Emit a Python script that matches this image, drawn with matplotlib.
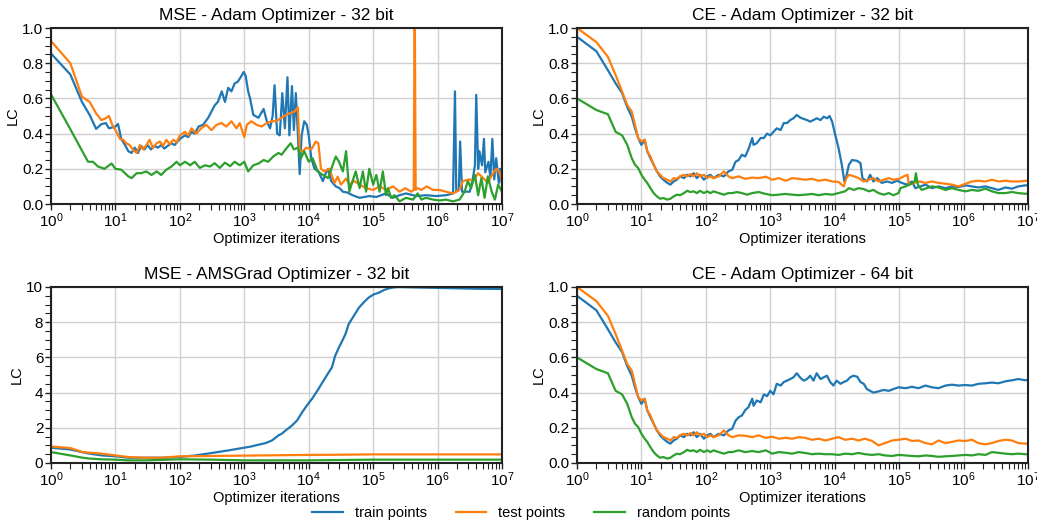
import numpy as np
import matplotlib
matplotlib.use("Agg")
import matplotlib.pyplot as plt
from matplotlib.ticker import MultipleLocator, LogLocator, NullFormatter

plt.rcParams['font.family'] = ['Liberation Sans', 'DejaVu Sans']
plt.rcParams['mathtext.fontset'] = 'custom'
plt.rcParams['mathtext.rm'] = 'Liberation Sans'
plt.rcParams['mathtext.it'] = 'Liberation Sans:italic'
plt.rcParams['mathtext.bf'] = 'Liberation Sans:bold'

# ---------------- data (x given as log10 of optimizer iterations) ----------------
# Panel 1: MSE - Adam - 32 bit
mse_adam_train_exp = [0, 0.3, 0.48, 0.6, 0.7, 0.78, 0.85, 0.9, 0.95, 1.0, 1.04, 1.09, 1.15, 1.2, 1.25, 1.3, 1.35, 1.4, 1.45, 1.5, 1.55, 1.61, 1.66, 1.71, 1.76, 1.81, 1.87, 1.92, 2.0, 2.08, 2.13, 2.18, 2.23, 2.29, 2.36, 2.44, 2.49, 2.54, 2.59, 2.65, 2.7, 2.75, 2.8, 2.85, 2.9, 2.96, 2.99, 3.02, 3.06, 3.09, 3.14, 3.22, 3.3, 3.35, 3.4, 3.44, 3.47, 3.51, 3.55, 3.59, 3.63, 3.67, 3.7, 3.74, 3.77, 3.8, 3.83, 3.86, 3.89, 3.93, 3.97, 4.0, 4.04, 4.09, 4.15, 4.22, 4.26, 4.3, 4.35, 4.42, 4.48, 4.53, 4.6, 4.68, 4.79, 4.94, 5.05, 5.2, 5.3, 5.41, 5.51, 5.67, 5.82, 5.98, 6.13, 6.24, 6.27, 6.29, 6.33, 6.35, 6.38, 6.5, 6.55, 6.58, 6.6, 6.63, 6.65, 6.69, 6.72, 6.74, 6.79, 6.82, 6.85, 6.88, 6.91, 6.95, 6.97, 7.0]
mse_adam_train_lc = [0.855, 0.736, 0.58, 0.506, 0.427, 0.453, 0.46, 0.43, 0.435, 0.44, 0.455, 0.37, 0.335, 0.30, 0.29, 0.32, 0.29, 0.33, 0.31, 0.335, 0.31, 0.33, 0.32, 0.335, 0.315, 0.33, 0.345, 0.335, 0.37, 0.39, 0.38, 0.41, 0.40, 0.44, 0.45, 0.49, 0.525, 0.56, 0.58, 0.64, 0.58, 0.66, 0.64, 0.685, 0.695, 0.73, 0.75, 0.73, 0.64, 0.60, 0.506, 0.49, 0.54, 0.47, 0.43, 0.50, 0.675, 0.40, 0.39, 0.63, 0.43, 0.72, 0.39, 0.67, 0.42, 0.63, 0.41, 0.17, 0.39, 0.47, 0.45, 0.39, 0.26, 0.20, 0.185, 0.13, 0.17, 0.20, 0.13, 0.10, 0.09, 0.07, 0.065, 0.05, 0.035, 0.045, 0.04, 0.06, 0.035, 0.05, 0.06, 0.045, 0.05, 0.045, 0.05, 0.06, 0.64, 0.07, 0.08, 0.355, 0.07, 0.07, 0.15, 0.22, 0.62, 0.20, 0.30, 0.22, 0.37, 0.18, 0.24, 0.15, 0.37, 0.14, 0.26, 0.12, 0.20, 0.11]

mse_adam_test_exp = [0, 0.3, 0.48, 0.6, 0.7, 0.78, 0.85, 0.9, 0.95, 1.0, 1.07, 1.12, 1.17, 1.22, 1.27, 1.33, 1.38, 1.43, 1.48, 1.53, 1.58, 1.64, 1.69, 1.74, 1.79, 1.84, 1.9, 1.95, 2.0, 2.08, 2.13, 2.18, 2.26, 2.33, 2.41, 2.49, 2.57, 2.65, 2.72, 2.8, 2.88, 2.93, 3.0, 3.04, 3.11, 3.19, 3.27, 3.35, 3.42, 3.47, 3.54, 3.62, 3.7, 3.78, 3.83, 3.86, 3.91, 3.96, 4.04, 4.11, 4.15, 4.19, 4.24, 4.32, 4.4, 4.45, 4.5, 4.58, 4.63, 4.71, 4.79, 4.89, 5.0, 5.1, 5.2, 5.31, 5.41, 5.5, 5.59, 5.63, 5.645, 5.66, 5.69, 5.75, 5.83, 5.93, 6.03, 6.13, 6.24, 6.34, 6.39, 6.5, 6.55, 6.63, 6.7, 6.78, 6.83, 6.91, 6.96, 7.0]
mse_adam_test_lc = [0.926, 0.80, 0.61, 0.58, 0.515, 0.477, 0.487, 0.50, 0.45, 0.42, 0.37, 0.365, 0.345, 0.335, 0.31, 0.29, 0.335, 0.31, 0.335, 0.365, 0.32, 0.345, 0.355, 0.33, 0.365, 0.34, 0.365, 0.35, 0.39, 0.41, 0.39, 0.43, 0.40, 0.43, 0.45, 0.42, 0.45, 0.46, 0.44, 0.47, 0.43, 0.46, 0.38, 0.45, 0.47, 0.45, 0.44, 0.46, 0.47, 0.47, 0.48, 0.50, 0.515, 0.525, 0.55, 0.30, 0.30, 0.32, 0.31, 0.355, 0.345, 0.20, 0.185, 0.20, 0.12, 0.155, 0.11, 0.145, 0.11, 0.13, 0.11, 0.09, 0.08, 0.10, 0.08, 0.10, 0.07, 0.09, 0.07, 0.08, 1.2, 0.08, 0.09, 0.08, 0.10, 0.08, 0.08, 0.07, 0.06, 0.08, 0.13, 0.14, 0.13, 0.175, 0.15, 0.12, 0.155, 0.20, 0.185, 0.13]

mse_adam_random_exp = [0, 0.3, 0.575, 0.65, 0.73, 0.83, 0.94, 1.0, 1.09, 1.2, 1.25, 1.33, 1.4, 1.48, 1.56, 1.64, 1.71, 1.79, 1.87, 1.95, 2.0, 2.08, 2.16, 2.23, 2.31, 2.39, 2.47, 2.54, 2.62, 2.7, 2.78, 2.85, 2.93, 3.0, 3.06, 3.14, 3.22, 3.3, 3.37, 3.45, 3.53, 3.58, 3.64, 3.72, 3.77, 3.83, 3.88, 3.93, 4.0, 4.06, 4.14, 4.22, 4.3, 4.37, 4.42, 4.47, 4.53, 4.58, 4.63, 4.68, 4.73, 4.79, 4.84, 4.89, 4.94, 5.0, 5.05, 5.1, 5.15, 5.2, 5.23, 5.28, 5.33, 5.41, 5.51, 5.62, 5.69, 5.75, 5.82, 5.93, 6.03, 6.13, 6.24, 6.34, 6.42, 6.47, 6.52, 6.58, 6.63, 6.68, 6.73, 6.78, 6.84, 6.89, 6.94, 7.0]
mse_adam_random_lc = [0.623, 0.425, 0.24, 0.24, 0.213, 0.20, 0.23, 0.20, 0.195, 0.157, 0.147, 0.175, 0.175, 0.185, 0.165, 0.185, 0.165, 0.195, 0.213, 0.24, 0.22, 0.24, 0.22, 0.24, 0.205, 0.22, 0.213, 0.232, 0.205, 0.235, 0.215, 0.24, 0.22, 0.24, 0.185, 0.22, 0.23, 0.25, 0.24, 0.27, 0.29, 0.28, 0.31, 0.345, 0.31, 0.32, 0.26, 0.30, 0.24, 0.26, 0.185, 0.165, 0.147, 0.22, 0.27, 0.24, 0.185, 0.30, 0.07, 0.13, 0.185, 0.09, 0.185, 0.07, 0.20, 0.11, 0.165, 0.07, 0.185, 0.05, 0.09, 0.035, 0.05, 0.015, 0.035, 0.025, 0.06, 0.025, 0.035, 0.025, 0.02, 0.025, 0.015, 0.025, 0.07, 0.13, 0.09, 0.165, 0.05, 0.147, 0.035, 0.157, 0.07, 0.025, 0.11, 0.07]

# Panels 2 and 4 share the same first ~250 iterations (CE - Adam, 32 and 64 bit)
ce_early_exp = [0, 0.3, 0.48, 0.6, 0.7, 0.78, 0.85, 0.9, 0.95, 1.0, 1.05, 1.09, 1.14, 1.19, 1.24, 1.29, 1.34, 1.4, 1.45, 1.5, 1.55, 1.6, 1.66, 1.71, 1.76, 1.81, 1.86, 1.91, 1.97, 2.02, 2.07, 2.12, 2.2, 2.28, 2.35, 2.41]
ce_early_train_lc = [0.95, 0.868, 0.76, 0.685, 0.63, 0.55, 0.496, 0.43, 0.375, 0.336, 0.365, 0.30, 0.26, 0.223, 0.185, 0.157, 0.138, 0.12, 0.11, 0.128, 0.138, 0.157, 0.147, 0.166, 0.157, 0.175, 0.147, 0.166, 0.138, 0.157, 0.166, 0.147, 0.166, 0.157, 0.185, 0.195]
ce_early_test_lc = [1.0, 0.92, 0.836, 0.732, 0.638, 0.562, 0.525, 0.45, 0.374, 0.355, 0.365, 0.30, 0.27, 0.223, 0.185, 0.166, 0.147, 0.138, 0.128, 0.147, 0.143, 0.157, 0.166, 0.157, 0.17, 0.157, 0.175, 0.157, 0.166, 0.147, 0.157, 0.147, 0.157, 0.185, 0.157, 0.147]
ce_early_random_lc = [0.6, 0.534, 0.51, 0.41, 0.39, 0.336, 0.26, 0.223, 0.204, 0.166, 0.138, 0.12, 0.09, 0.062, 0.043, 0.03, 0.034, 0.025, 0.03, 0.043, 0.053, 0.05, 0.062, 0.075, 0.068, 0.072, 0.062, 0.075, 0.062, 0.072, 0.062, 0.072, 0.062, 0.053, 0.062, 0.062]

# Panel 2: CE - Adam - 32 bit (after the shared start)
ce32_train_exp = [2.46, 2.51, 2.56, 2.61, 2.66, 2.72, 2.74, 2.79, 2.85, 2.9, 2.95, 3.0, 3.05, 3.1, 3.16, 3.21, 3.26, 3.31, 3.36, 3.41, 3.47, 3.52, 3.57, 3.62, 3.67, 3.72, 3.78, 3.83, 3.88, 3.92, 3.96, 4.01, 4.06, 4.11, 4.15, 4.18, 4.22, 4.27, 4.35, 4.4, 4.43, 4.5, 4.55, 4.6, 4.66, 4.73, 4.81, 4.89, 4.97, 5.04, 5.12, 5.2, 5.25, 5.33, 5.41, 5.51, 5.61, 5.72, 5.82, 5.92, 6.03, 6.13, 6.23, 6.34, 6.44, 6.54, 6.65, 6.75, 6.85, 6.96, 7.0]
ce32_train_lc = [0.24, 0.25, 0.28, 0.27, 0.31, 0.375, 0.336, 0.345, 0.375, 0.375, 0.40, 0.39, 0.41, 0.43, 0.42, 0.46, 0.46, 0.477, 0.487, 0.506, 0.49, 0.483, 0.477, 0.468, 0.477, 0.487, 0.477, 0.496, 0.487, 0.50, 0.468, 0.39, 0.317, 0.223, 0.128, 0.157, 0.223, 0.25, 0.245, 0.232, 0.147, 0.128, 0.166, 0.128, 0.147, 0.12, 0.128, 0.12, 0.132, 0.12, 0.11, 0.128, 0.09, 0.10, 0.11, 0.09, 0.10, 0.09, 0.10, 0.096, 0.106, 0.10, 0.094, 0.10, 0.09, 0.08, 0.094, 0.087, 0.10, 0.106, 0.105]
ce32_test_exp = [2.51, 2.61, 2.72, 2.82, 2.93, 3.03, 3.13, 3.24, 3.34, 3.44, 3.54, 3.65, 3.75, 3.86, 3.96, 4.06, 4.14, 4.18, 4.22, 4.3, 4.37, 4.45, 4.53, 4.6, 4.68, 4.76, 4.84, 4.91, 5.0, 5.07, 5.13, 5.15, 5.23, 5.31, 5.41, 5.51, 5.61, 5.72, 5.82, 5.92, 6.03, 6.13, 6.23, 6.34, 6.44, 6.54, 6.65, 6.75, 6.85, 6.96, 7.0]
ce32_test_lc = [0.157, 0.143, 0.15, 0.147, 0.155, 0.138, 0.147, 0.132, 0.147, 0.143, 0.138, 0.143, 0.132, 0.138, 0.128, 0.125, 0.10, 0.147, 0.166, 0.157, 0.147, 0.128, 0.138, 0.147, 0.128, 0.138, 0.147, 0.138, 0.143, 0.157, 0.166, 0.11, 0.12, 0.128, 0.12, 0.128, 0.12, 0.115, 0.11, 0.10, 0.115, 0.128, 0.132, 0.128, 0.138, 0.128, 0.132, 0.128, 0.128, 0.132, 0.13]
ce32_random_exp = [2.48, 2.56, 2.64, 2.72, 2.82, 2.93, 3.03, 3.13, 3.23, 3.34, 3.44, 3.54, 3.65, 3.75, 3.86, 3.96, 4.06, 4.16, 4.22, 4.3, 4.37, 4.45, 4.53, 4.6, 4.68, 4.76, 4.84, 4.91, 4.99, 5.02, 5.1, 5.18, 5.24, 5.26, 5.29, 5.35, 5.43, 5.51, 5.61, 5.72, 5.82, 5.92, 6.03, 6.13, 6.23, 6.34, 6.44, 6.54, 6.65, 6.75, 6.85, 6.96, 7.0]
ce32_random_lc = [0.068, 0.062, 0.053, 0.062, 0.068, 0.057, 0.05, 0.053, 0.057, 0.053, 0.05, 0.053, 0.057, 0.05, 0.057, 0.053, 0.062, 0.072, 0.09, 0.08, 0.09, 0.085, 0.072, 0.08, 0.062, 0.053, 0.062, 0.05, 0.062, 0.09, 0.10, 0.113, 0.128, 0.175, 0.11, 0.08, 0.09, 0.10, 0.094, 0.08, 0.09, 0.08, 0.072, 0.08, 0.075, 0.087, 0.072, 0.062, 0.062, 0.068, 0.062, 0.058, 0.06]

# Panel 4: CE - Adam - 64 bit (after the shared start)
ce64_train_exp = [2.46, 2.51, 2.56, 2.61, 2.66, 2.72, 2.74, 2.79, 2.85, 2.9, 2.95, 3.0, 3.05, 3.1, 3.16, 3.21, 3.26, 3.31, 3.36, 3.41, 3.47, 3.52, 3.57, 3.62, 3.67, 3.72, 3.78, 3.83, 3.88, 3.93, 3.98, 4.03, 4.09, 4.14, 4.19, 4.24, 4.29, 4.35, 4.4, 4.45, 4.5, 4.55, 4.6, 4.68, 4.76, 4.84, 4.91, 4.99, 5.1, 5.2, 5.3, 5.41, 5.51, 5.61, 5.72, 5.82, 5.92, 6.03, 6.13, 6.23, 6.34, 6.44, 6.54, 6.65, 6.75, 6.85, 6.96, 7.0]
ce64_train_lc = [0.24, 0.26, 0.27, 0.30, 0.317, 0.365, 0.325, 0.355, 0.345, 0.39, 0.38, 0.41, 0.39, 0.45, 0.44, 0.46, 0.468, 0.477, 0.487, 0.51, 0.483, 0.468, 0.477, 0.496, 0.468, 0.51, 0.477, 0.487, 0.496, 0.46, 0.44, 0.468, 0.45, 0.46, 0.468, 0.487, 0.496, 0.49, 0.46, 0.45, 0.42, 0.41, 0.40, 0.407, 0.415, 0.41, 0.42, 0.43, 0.425, 0.433, 0.425, 0.44, 0.43, 0.425, 0.44, 0.445, 0.44, 0.443, 0.44, 0.45, 0.453, 0.457, 0.453, 0.464, 0.47, 0.477, 0.47, 0.472]
ce64_test_exp = [2.51, 2.61, 2.72, 2.82, 2.93, 3.03, 3.13, 3.24, 3.34, 3.44, 3.54, 3.65, 3.75, 3.86, 3.96, 4.06, 4.16, 4.27, 4.37, 4.47, 4.58, 4.68, 4.78, 4.89, 4.99, 5.1, 5.2, 5.3, 5.41, 5.51, 5.61, 5.72, 5.82, 5.92, 6.03, 6.13, 6.23, 6.34, 6.44, 6.54, 6.65, 6.75, 6.85, 6.96, 7.0]
ce64_test_lc = [0.157, 0.155, 0.147, 0.157, 0.143, 0.15, 0.138, 0.143, 0.138, 0.147, 0.143, 0.132, 0.138, 0.128, 0.138, 0.147, 0.132, 0.138, 0.128, 0.138, 0.125, 0.10, 0.113, 0.128, 0.132, 0.138, 0.125, 0.128, 0.113, 0.106, 0.128, 0.113, 0.12, 0.128, 0.125, 0.132, 0.113, 0.106, 0.113, 0.125, 0.132, 0.128, 0.113, 0.11, 0.112]
ce64_random_exp = [2.51, 2.61, 2.72, 2.82, 2.93, 3.03, 3.13, 3.24, 3.34, 3.44, 3.54, 3.65, 3.75, 3.86, 3.96, 4.06, 4.16, 4.27, 4.37, 4.47, 4.58, 4.68, 4.78, 4.89, 4.99, 5.1, 5.2, 5.3, 5.41, 5.51, 5.61, 5.72, 5.82, 5.92, 6.03, 6.13, 6.23, 6.34, 6.44, 6.54, 6.65, 6.75, 6.85, 6.96, 7.0]
ce64_random_lc = [0.072, 0.062, 0.068, 0.062, 0.072, 0.053, 0.062, 0.058, 0.053, 0.062, 0.057, 0.05, 0.053, 0.05, 0.05, 0.046, 0.053, 0.05, 0.057, 0.05, 0.046, 0.05, 0.043, 0.04, 0.046, 0.043, 0.04, 0.038, 0.043, 0.04, 0.035, 0.038, 0.04, 0.043, 0.046, 0.043, 0.05, 0.046, 0.062, 0.058, 0.053, 0.05, 0.053, 0.05, 0.05]

# Panel 3: MSE - AMSGrad - 32 bit
ams_train_exp = [0, 0.3, 0.48, 0.6, 0.79, 1.0, 1.2, 1.46, 1.72, 2.0, 2.24, 2.5, 2.76, 3.0, 3.11, 3.22, 3.33, 3.43, 3.53, 3.58, 3.66, 3.74, 3.82, 3.9, 3.97, 4.05, 4.1, 4.15, 4.23, 4.31, 4.36, 4.41, 4.47, 4.52, 4.57, 4.62, 4.7, 4.78, 4.85, 4.93, 5.01, 5.09, 5.17, 5.24, 5.32, 5.4, 5.6, 5.87, 6.12, 6.38, 6.64, 7.0]
ams_train_lc = [0.87, 0.77, 0.62, 0.53, 0.43, 0.38, 0.30, 0.30, 0.30, 0.34, 0.43, 0.57, 0.72, 0.87, 0.94, 1.04, 1.13, 1.28, 1.57, 1.66, 1.9, 2.13, 2.42, 2.89, 3.26, 3.64, 3.92, 4.2, 4.68, 5.15, 5.43, 6.09, 6.57, 6.94, 7.32, 7.89, 8.36, 8.83, 9.11, 9.4, 9.58, 9.68, 9.83, 9.92, 9.98, 10.0, 9.98, 9.96, 9.94, 9.92, 9.9, 9.89]
ams_test_exp = [0, 0.3, 0.49, 0.79, 1.0, 1.2, 1.46, 1.72, 2.0, 2.5, 3.0, 3.5, 4.0, 4.5, 5.0, 6.0, 7.0]
ams_test_lc = [0.94, 0.85, 0.62, 0.53, 0.43, 0.34, 0.30, 0.30, 0.38, 0.40, 0.42, 0.44, 0.46, 0.47, 0.49, 0.49, 0.49]
ams_random_exp = [0, 0.3, 0.49, 0.6, 0.79, 1.0, 1.2, 1.46, 2.0, 2.5, 3.0, 4.0, 4.5, 5.0, 6.0, 7.0]
ams_random_lc = [0.62, 0.43, 0.30, 0.25, 0.21, 0.19, 0.15, 0.15, 0.21, 0.19, 0.15, 0.15, 0.17, 0.19, 0.19, 0.19]

series_labels = ["train points", "test points", "random points"]
titles = ["MSE - Adam Optimizer - 32 bit", "CE - Adam Optimizer - 32 bit",
          "MSE - AMSGrad Optimizer - 32 bit", "CE - Adam Optimizer - 64 bit"]
colors = ["#1f77b4", "#ff7f0e", "#2ca02c"]

panels = [
    ([(mse_adam_train_exp, mse_adam_train_lc), (mse_adam_test_exp, mse_adam_test_lc),
      (mse_adam_random_exp, mse_adam_random_lc)], (0, 1.0), 0.2, 0.05),
    ([(ce_early_exp + ce32_train_exp, ce_early_train_lc + ce32_train_lc),
      (ce_early_exp + ce32_test_exp, ce_early_test_lc + ce32_test_lc),
      (ce_early_exp + ce32_random_exp, ce_early_random_lc + ce32_random_lc)], (0, 1.0), 0.2, 0.05),
    ([(ams_train_exp, ams_train_lc), (ams_test_exp, ams_test_lc),
      (ams_random_exp, ams_random_lc)], (0, 10), 2, 0.5),
    ([(ce_early_exp + ce64_train_exp, ce_early_train_lc + ce64_train_lc),
      (ce_early_exp + ce64_test_exp, ce_early_test_lc + ce64_test_lc),
      (ce_early_exp + ce64_random_exp, ce_early_random_lc + ce64_random_lc)], (0, 1.0), 0.2, 0.05),
]

W, H = 1037, 522
fig = plt.figure(figsize=(W / 100, H / 100), dpi=100)
boxes = [(51, 28, 502, 204), (577, 28, 1028, 204), (51, 287, 502, 463), (577, 287, 1028, 463)]

handles = []
for i, ((series, ylim, major, minor), box) in enumerate(zip(panels, boxes)):
    l, t, r, b = box
    ax = fig.add_axes([l / W, 1 - b / H, (r - l) / W, (b - t) / H])
    for k, (ex, lc) in enumerate(series):
        x = np.power(10.0, np.array(ex, dtype=float))
        ln, = ax.plot(x, lc, color=colors[k], lw=1.6, label=series_labels[k])
        if i == 0:
            handles.append(ln)
    ax.set_xscale('log')
    ax.set_xlim(1, 1e7)
    ax.set_ylim(*ylim)
    ax.xaxis.set_major_locator(LogLocator(base=10, numticks=10))
    ax.xaxis.set_minor_locator(LogLocator(base=10, subs=np.arange(2, 10), numticks=100))
    ax.xaxis.set_minor_formatter(NullFormatter())
    ax.yaxis.set_major_locator(MultipleLocator(major))
    ax.yaxis.set_minor_locator(MultipleLocator(minor))
    if major < 1:
        ax.yaxis.set_major_formatter(matplotlib.ticker.FormatStrFormatter('%.1f'))
    ax.grid(True, which='major', color='#d0d0d0', lw=1.0)
    ax.set_axisbelow(True)
    for s in ax.spines.values():
        s.set_color('#222222')
        s.set_linewidth(1.5)
    ax.tick_params(which='both', direction='out', color='#222222', labelsize=11, pad=1.5)
    ax.tick_params(which='major', length=4, width=1.0)
    ax.tick_params(which='minor', length=4, width=0.8)
    ax.set_title(titles[i], fontsize=12.5, pad=6)
    ax.set_xlabel("Optimizer iterations", fontsize=10.5, labelpad=1)
    ax.set_ylabel("LC", fontsize=10.5, labelpad=2)

fig.legend(handles, series_labels, loc='center', bbox_to_anchor=(521 / W, 1 - 513 / H),
           ncol=3, frameon=False, fontsize=10.5, columnspacing=2.0, handlelength=2.1)

fig.savefig("out.png", dpi=100)
